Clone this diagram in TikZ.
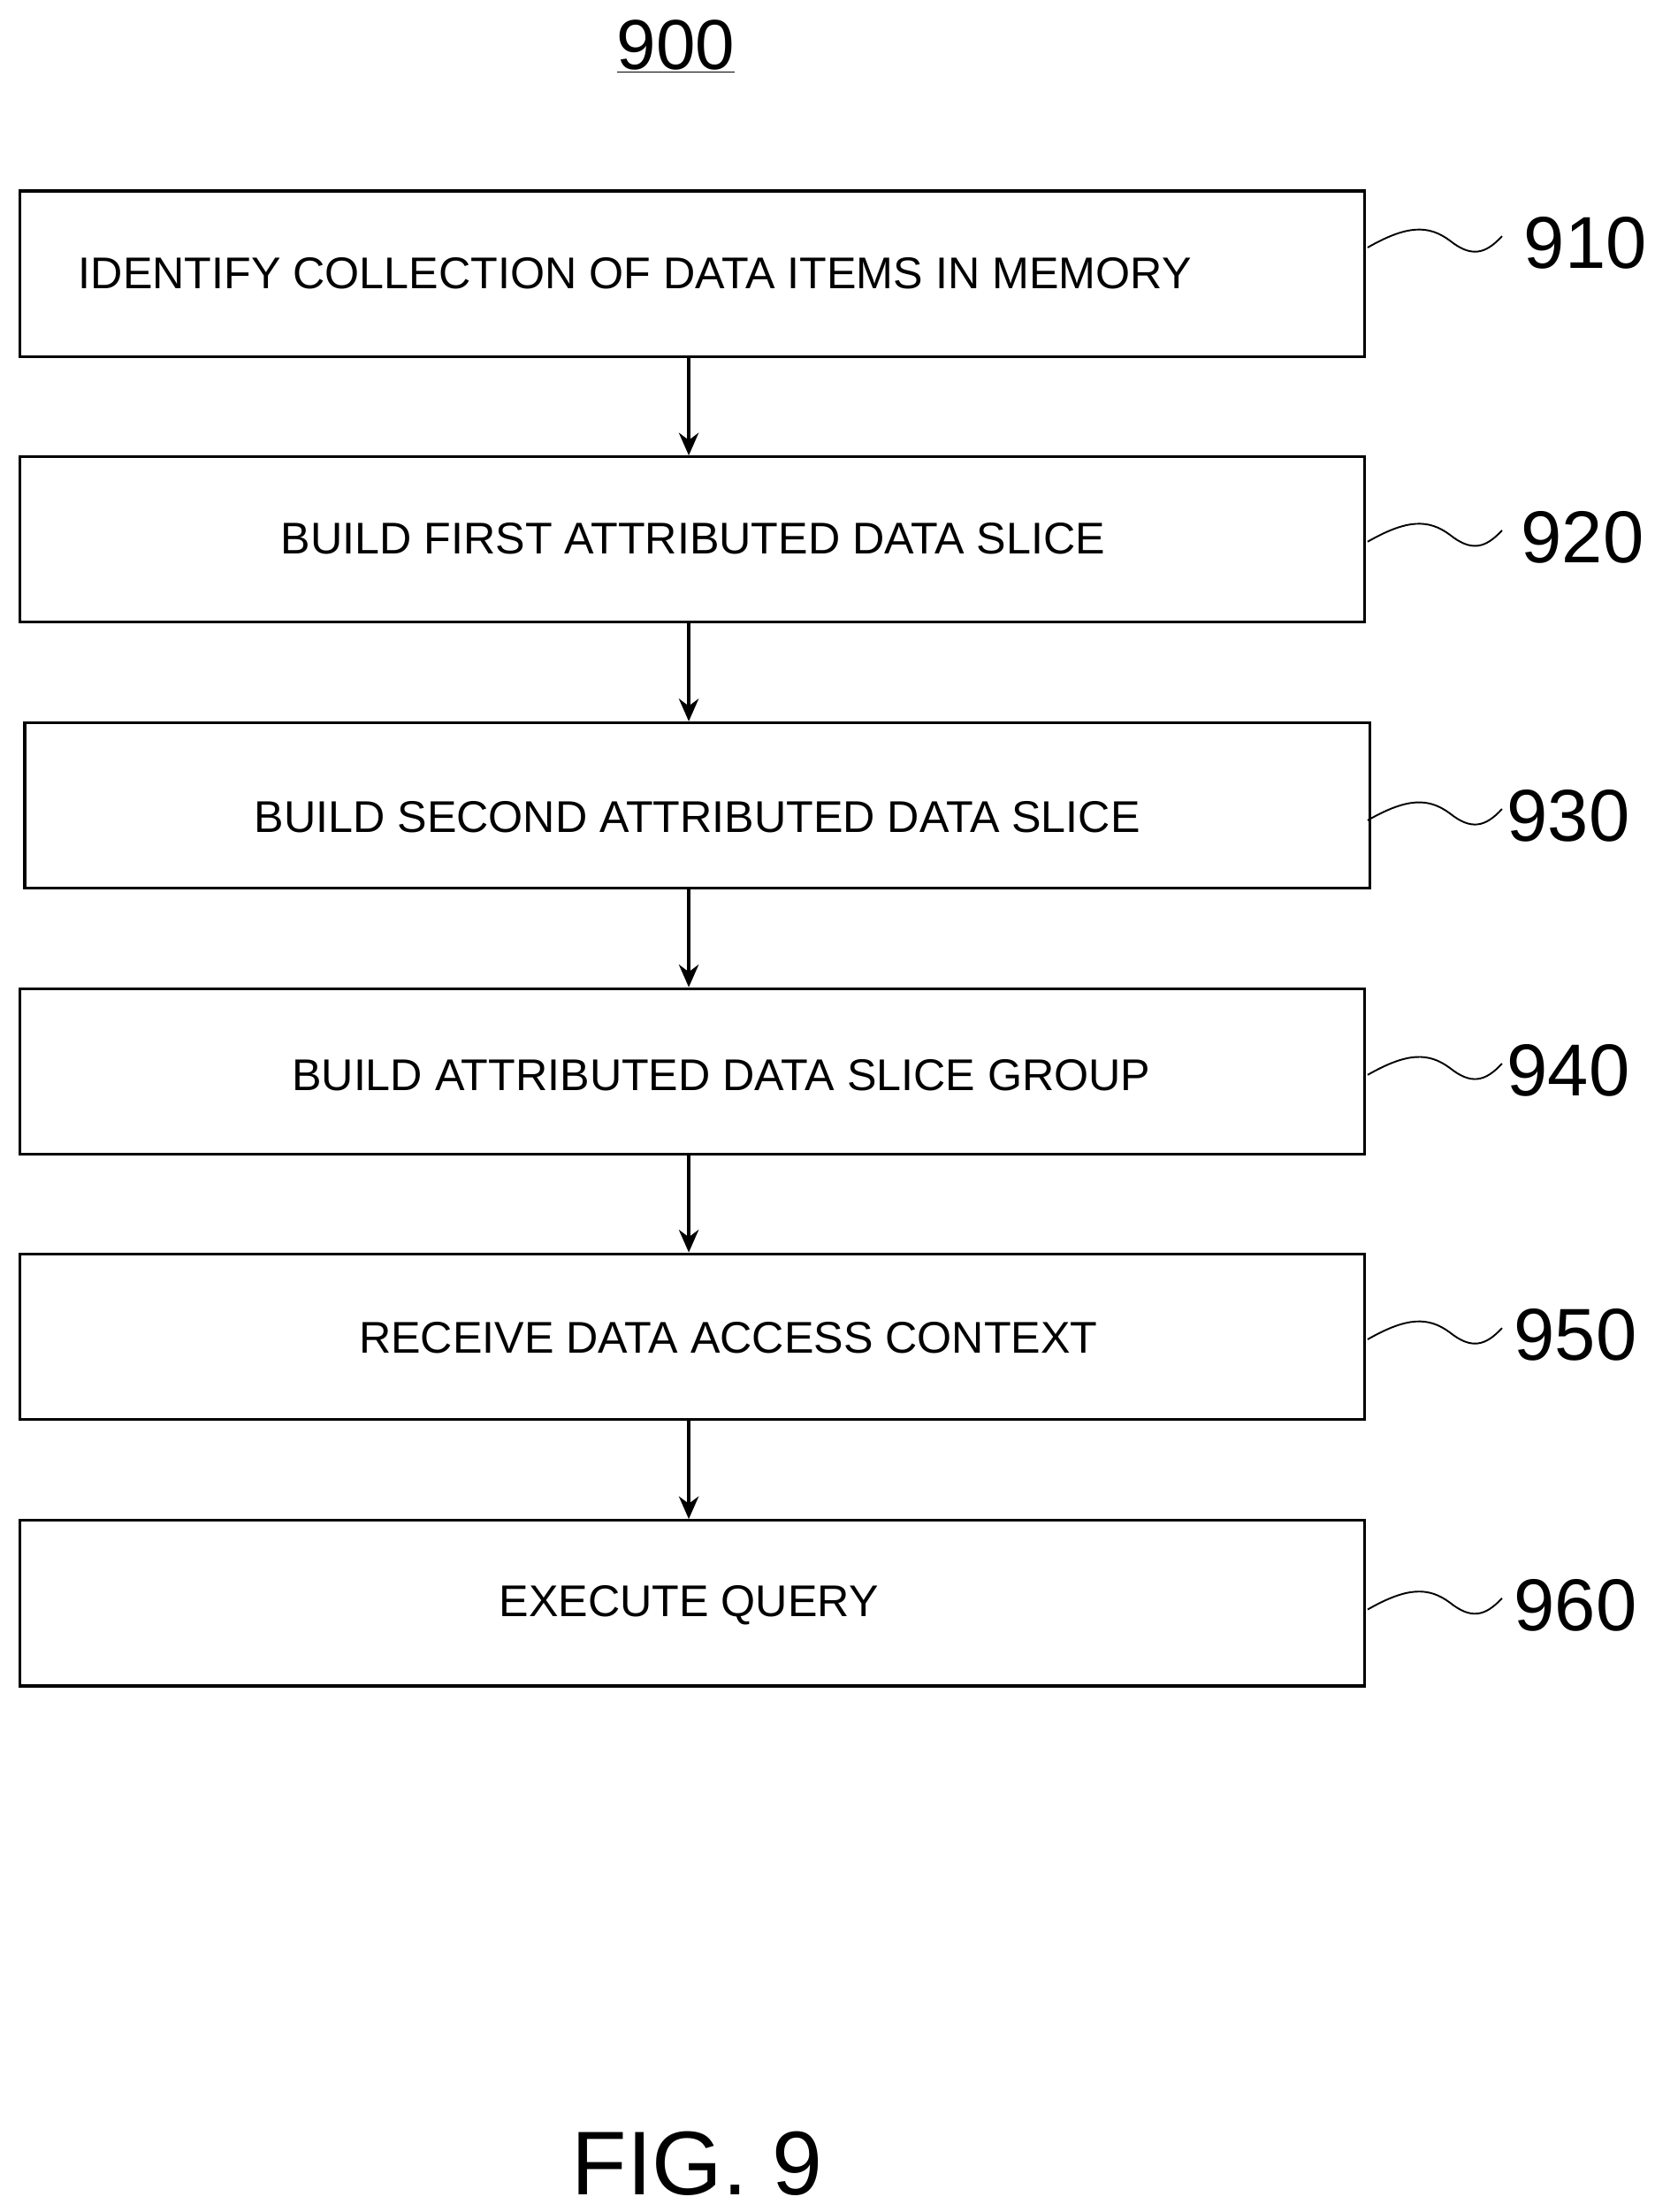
\documentclass[tikz,border=0pt]{standalone}
\usepackage{fontspec}
\setmainfont{Liberation Sans}
\usetikzlibrary{arrows.meta}
\begin{document}
\begin{tikzpicture}[x=1pt,y=-1pt,
  box/.style={draw,line width=2pt,minimum width=951pt,minimum height=117pt,inner sep=0pt},
  txt/.style={font=\fontsize{31.4}{36}\selectfont},
  num/.style={font=\fontsize{52}{60}\selectfont,anchor=west},
  arr/.style={line width=2pt,-{Stealth[length=16pt,width=14pt]}},
  sq/.style={line width=1.2pt}]
\useasboundingbox (0,0) rectangle (1170,1564);
\coordinate (ax) at (487,0);
\node (t) at (478,33) {\fontsize{50}{60}\selectfont\underline{900}};
\node[box] (b1) at (489.5,193.5) {};
\node[box] (b2) at (489.5,381.5) {};
\node[box] (b3) at (493,569.5) {};
\node[box] (b4) at (489.5,757.5) {};
\node[box] (b5) at (489.5,945) {};
\node[box] (b6) at (489.5,1133.5) {};
\node[txt,anchor=west] (l1) at (52,193) {IDENTIFY COLLECTION OF DATA ITEMS IN MEMORY};
\node[txt] (l2) at (490,381) {BUILD FIRST ATTRIBUTED DATA SLICE};
\node[txt] (l3) at (493,578) {BUILD SECOND ATTRIBUTED DATA SLICE};
\node[txt] (l4) at (510,760) {BUILD ATTRIBUTED DATA SLICE GROUP};
\node[txt] (l5) at (515,946) {RECEIVE DATA ACCESS CONTEXT};
\node[txt] (l6) at (487,1135) {EXECUTE QUERY};
\foreach \a/\b in {b1/b2,b2/b3,b3/b4,b4/b5,b5/b6}
  \draw[arr] (\a.south -| ax) -- (\b.north -| ax);
\foreach \n/\y/\lab/\dx in {1/172/910/12,2/380/920/10,3/577/930/0,4/757/940/0,5/944/950/5,6/1135/960/5}{
  \coordinate (s\n) at (967,\y+3);
  \coordinate (e\n) at (1062,\y-5);
  \draw[sq] (s\n) .. controls (995,\y-13) and (1010,\y-13) .. (1025,\y-2) .. controls (1040,\y+10) and (1050,\y+8) .. (e\n);
  \node[num] (n\n) at (1062+\dx,\y) {\lab};
}
\node (fig) at (493,1530) {\fontsize{64}{72}\selectfont FIG. 9};
\end{tikzpicture}
\end{document}
